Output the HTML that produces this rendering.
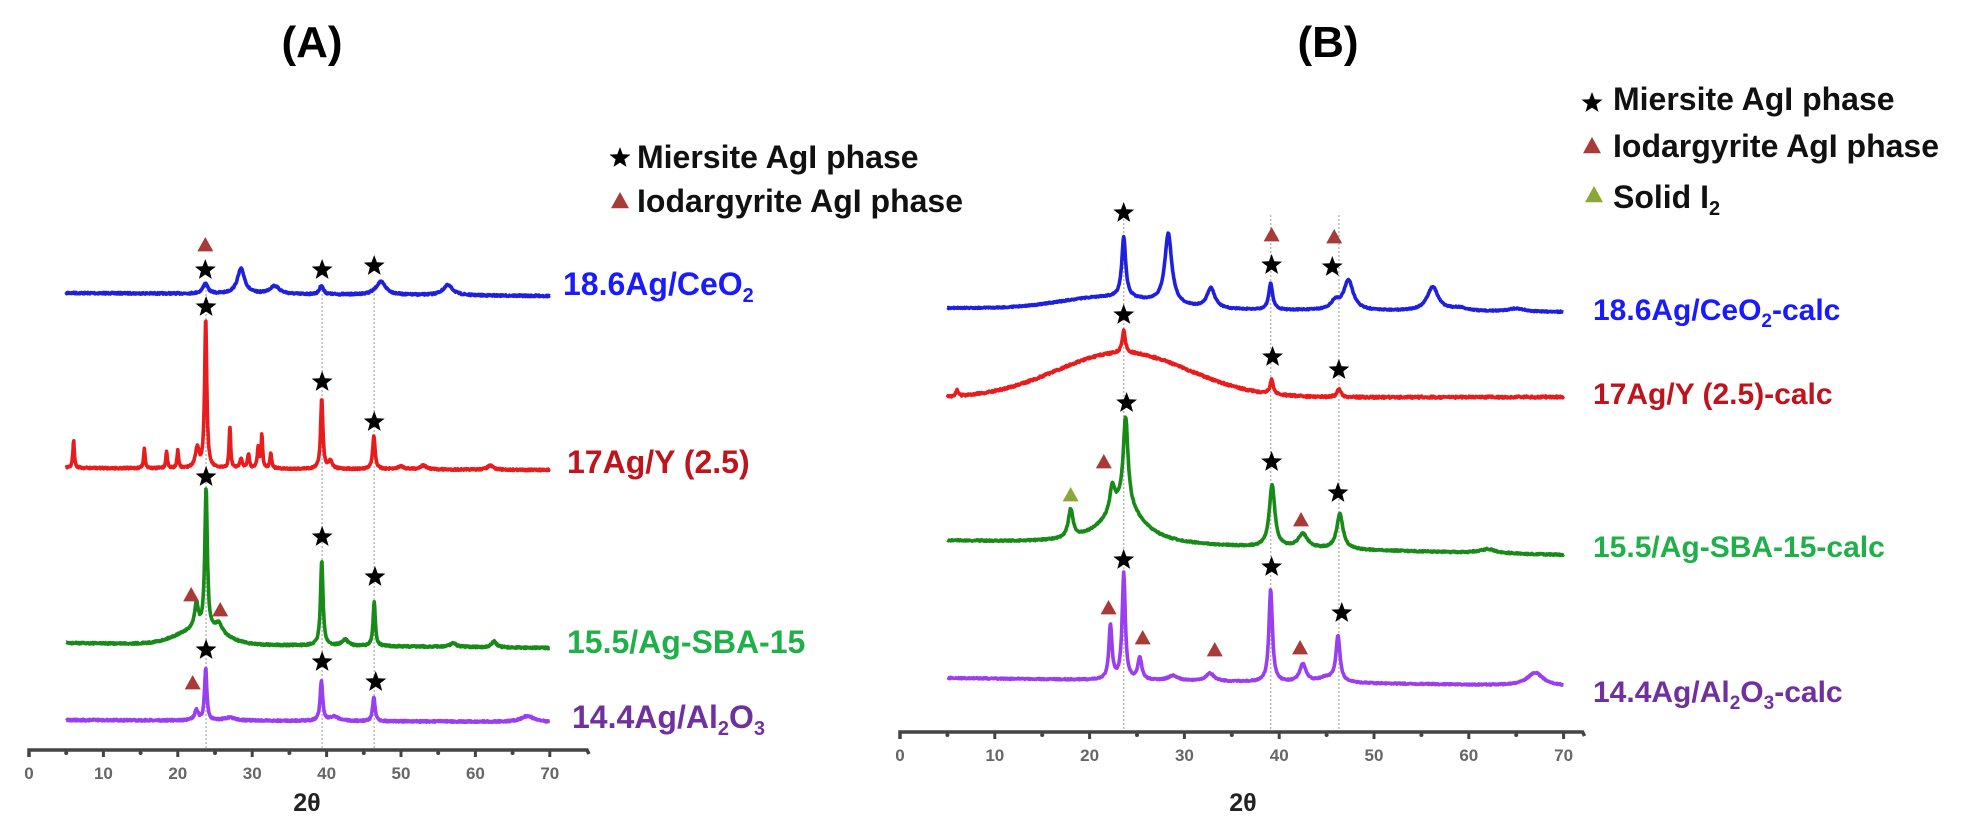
<!DOCTYPE html>
<html><head><meta charset="utf-8"><style>
html,body{margin:0;padding:0;background:#fff;}
svg{display:block;}
text{font-family:"Liberation Sans",Arial,sans-serif;font-weight:bold;}
</style></head><body>
<svg id="s" width="1962" height="830" viewBox="0 0 1962 830" xmlns="http://www.w3.org/2000/svg">
<rect width="1962" height="830" fill="#fff"/>
<g id="dots"></g>
<g id="curves"></g>
<g id="marks"></g>
<g id="axes" stroke="#444" fill="none"></g>
<text x="312" y="57" font-size="44" text-anchor="middle" fill="#000">(A)</text>
<text x="1328" y="57" font-size="44" text-anchor="middle" fill="#000">(B)</text>
<g id="legA"></g>
<text x="637" y="168" font-size="32" fill="#111">Miersite AgI phase</text>
<text x="637" y="212" font-size="32" fill="#111">Iodargyrite AgI phase</text>
<text x="1613" y="110" font-size="32" fill="#111">Miersite AgI phase</text>
<text x="1613" y="157" font-size="32" fill="#111">Iodargyrite AgI phase</text>
<text x="1613" y="208" font-size="32" fill="#111">Solid I<tspan font-size="20" dy="7">2</tspan></text>
<text x="563" y="295" font-size="32" fill="#1a1aff">18.6Ag/CeO<tspan font-size="20" dy="7">2</tspan></text>
<text x="567" y="473" font-size="32" fill="#c0141c">17Ag/Y (2.5)</text>
<text x="567" y="653" font-size="32" fill="#1fb04a">15.5/Ag-SBA-15</text>
<text x="572" y="728" font-size="32" fill="#7030a0">14.4Ag/Al<tspan font-size="20" dy="7">2</tspan><tspan dy="-7">O</tspan><tspan font-size="20" dy="7">3</tspan></text>
<text x="1593" y="320" font-size="30" fill="#1a1aff">18.6Ag/CeO<tspan font-size="19" dy="7">2</tspan><tspan dy="-7">-calc</tspan></text>
<text x="1593" y="404" font-size="30" fill="#c0141c">17Ag/Y (2.5)-calc</text>
<text x="1593" y="557" font-size="30" fill="#1fb04a">15.5/Ag-SBA-15-calc</text>
<text x="1593" y="702" font-size="30" fill="#7030a0">14.4Ag/Al<tspan font-size="19" dy="7">2</tspan><tspan dy="-7">O</tspan><tspan font-size="19" dy="7">3</tspan><tspan dy="-7">-calc</tspan></text>
<text x="307" y="811" font-size="25" text-anchor="middle" fill="#222">2θ</text>
<text x="1243" y="811" font-size="25" text-anchor="middle" fill="#222">2θ</text>
<g id="ticks" font-size="17" fill="#666"></g>
</svg>
<script>
var NS="http://www.w3.org/2000/svg";
function el(p,n,a,t){var e=document.createElementNS(NS,n);for(var k in a)e.setAttribute(k,a[k]);if(t!==undefined)e.textContent=t;document.getElementById(p).appendChild(e);return e;}
var seed=7;function rnd(){seed=(seed*16807)%2147483647;return seed/2147483647-0.5;}
var XA=function(t){return 29+7.44*t;}, XB=function(t){return 900+9.48*t;};
function curve(X,b0,b1,peaks,gauss,col,noise){
  var d="";for(var t=5;t<=70.001;t+=0.06){
    var y=b0+(b1-b0)*(t-5)/65;
    peaks.forEach(function(p){var u=(t-p[0])/p[2];y-=p[1]/(1+u*u);});
    (gauss||[]).forEach(function(g){var u=(t-g[0])/g[2];y-=g[1]*Math.exp(-u*u/2);});
    y+=rnd()*(noise||1.6);
    d+=(d?"L":"M")+X(t).toFixed(1)+","+y.toFixed(1);}
  el("curves","path",{d:d,stroke:col,"stroke-width":3.6,fill:"none","stroke-linejoin":"round"});
}
function star(x,y,r){r=r||11;var d="";for(var i=0;i<10;i++){var a=-Math.PI/2+i*Math.PI/5,rr=i%2?r*0.42:r;d+=(i?"L":"M")+(x+rr*Math.cos(a)).toFixed(1)+","+(y+rr*Math.sin(a)).toFixed(1);}el("marks","path",{d:d+"Z",fill:"#000"});}
function tri(x,y,c,s){s=s||8;el("marks","path",{d:"M"+x+","+(y-s)+"L"+(x+s)+","+(y+s*0.8)+"L"+(x-s)+","+(y+s*0.8)+"Z",fill:c||"#a83a38"});}
var BLUE="#1f1fe0",RED="#e81c1c",GRN="#178a17",PUR="#9a3ff0";
[23.8,39.4,46.4].forEach(function(t){el("dots","line",{x1:XA(t),x2:XA(t),y1:290,y2:750,stroke:"#bbb","stroke-width":1.5,"stroke-dasharray":"2,2"});});
[23.6,39.1,46.3].forEach(function(t){el("dots","line",{x1:XB(t),x2:XB(t),y1:215,y2:732,stroke:"#bbb","stroke-width":1.5,"stroke-dasharray":"2,2"});});
curve(XA,293,296,[[23.7,10,0.4],[28.5,25,0.6],[33,8,0.8],[39.3,9,0.3],[47.3,13,0.8],[56.3,10,0.8]],[],BLUE);
curve(XA,468,470,[[6,28,0.12],[15.5,20,0.12],[18.5,17,0.12],[20,18,0.12],[22.6,20,0.3],[23.75,150,0.17],[27,42,0.12],[28.5,10,0.2],[29.5,14,0.15],[30.8,20,0.15],[31.3,33,0.12],[32.5,15,0.15],[39.35,71,0.18],[40.5,8,0.3],[46.35,33,0.2],[50,3,0.5],[53,4,0.5],[62,4,0.5]],[],RED);
curve(XA,643,648,[[22.5,25,0.3],[23.8,140,0.2],[25.5,10,0.6],[39.35,85,0.2],[42.5,6,0.5],[46.4,44,0.18],[57,4,0.5],[62.5,6,0.4]],[[23,15,3]],GRN);
curve(XA,720,722,[[22.5,10,0.3],[23.75,52,0.18],[27,3,1],[39.3,40,0.2],[41,4,0.8],[46.35,24,0.2],[67,6,1]],[],PUR);
curve(XB,308,312,[[23.6,60,0.25],[28.3,70,0.45],[32.8,20,0.5],[39.1,26,0.25],[45.9,8,0.5],[47.3,30,0.6],[56.2,24,0.7],[59,3,1],[65,3,1]],[[22,12,5]],BLUE,1.2);
curve(XB,398,397,[[6,6,0.15],[23.6,22,0.2],[39.2,14,0.2],[46.3,8,0.25]],[[23.5,45,7]],RED,2);
curve(XB,541,555,[[23.5,40,2.5],[18,28,0.3],[22.4,25,0.3],[23.8,88,0.3],[39.25,62,0.35],[42.5,14,0.6],[46.4,35,0.4],[62,4,1]],[],GRN,1.4);
curve(XB,678,686,[[22.2,54,0.2],[23.6,106,0.2],[25.3,22,0.25],[28.8,5,0.6],[32.7,8,0.5],[39.1,92,0.22],[42.5,18,0.4],[46.2,46,0.25],[45,5,1],[67,13,1]],[],PUR,1.2);
tri(XA(23.7),245);star(XA(23.7),270);star(XA(39.4),270);star(XA(46.4),266);
star(XA(23.8),307);star(XA(39.4),382);star(XA(46.4),422);
star(XA(23.8),477);star(XA(39.4),537);star(XA(46.5),577);tri(XA(21.8),595);tri(XA(25.7),610);
star(XA(23.8),650);star(XA(39.4),662);star(XA(46.6),682);tri(XA(22),683);
star(XB(23.6),213);tri(XB(39.2),235);star(XB(39.2),265);tri(XB(45.8),237);star(XB(45.6),267);
star(XB(23.6),315);star(XB(39.3),357);star(XB(46.3),370);
star(XB(23.9),403);star(XB(39.2),462);star(XB(46.2),493);tri(XB(21.5),462);tri(XB(18),495,"#8aa83a");tri(XB(42.3),520);
star(XB(23.6),560);star(XB(39.2),567);star(XB(46.6),613);tri(XB(22),608);tri(XB(25.6),638);tri(XB(33.2),650);tri(XB(42.2),648);
star(620,158,11);tri(620,201,"#a83a38",9);
star(1592,103,11);tri(1592,146,"#a83a38",9);tri(1594,195,"#8aa83a",9);
function axis(X,y,tmax){
  el("axes","path",{d:"M"+X(0)+","+(y+7)+"L"+X(0)+","+y+"L"+X(tmax)+","+y+"L"+(X(tmax)+2)+","+(y+4),"stroke-width":3.5});
  for(var t=0;t<=70;t+=5){
    if(t%10==0){el("axes","line",{x1:X(t),x2:X(t),y1:y,y2:y+7,"stroke-width":3});
      el("ticks","text",{x:X(t),y:y+29,"text-anchor":"middle","font-weight":"normal"},String(t));}
    else el("axes","circle",{cx:X(t),cy:y+3,r:2,fill:"#444",stroke:"none"});}
}
axis(XA,750,75);
axis(XB,732,72);
</script>
</body></html>
